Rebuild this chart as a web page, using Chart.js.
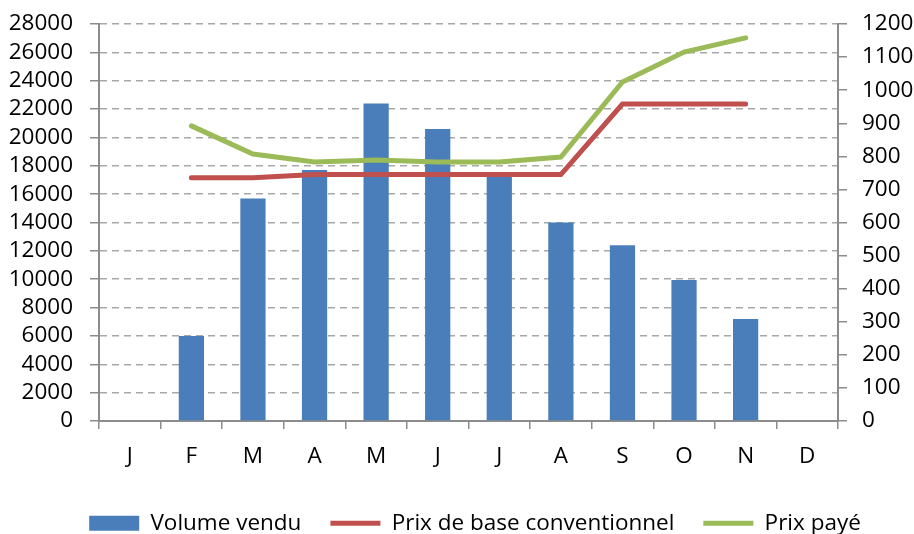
<!DOCTYPE html>
<html>
<head>
<meta charset="utf-8">
<script src="https://cdn.jsdelivr.net/npm/chart.js@4"></script>
<style>
  body { margin: 0; background: #fff; }
  #wrap { width: 914px; height: 534px; position: relative; }
</style>
</head>
<body>
<div id="wrap"><canvas id="chart"></canvas></div>
<script>
// Months (French initials)
const months = ['J', 'F', 'M', 'A', 'M', 'J', 'J', 'A', 'S', 'O', 'N', 'D'];

// Volume sold (left axis)
const volumeVendu = [null, 6000, 15700, 17700, 22400, 20600, 17500, 14000, 12400, 9950, 7200, null];

// Prices (right axis)
const prixBase = [null, 735, 735, 745, 745, 745, 745, 745, 958, 958, 958, null];
const prixPaye = [null, 892, 807, 783, 789, 783, 783, 798, 1025, 1115, 1158, null];

const leftTicks = { min: 0, max: 28000, step: 2000 };
const rightTicks = { min: 0, max: 1200, step: 100 };

const FONT = 'Open Sans';
const FONT_SIZE = 22.5;
const axisGrey = '#8c8c8c';

// keep tick-label padding from pushing the plot area down
function fitVertical(width) {
    return (scale) => {
        scale.width = width;
        scale.paddingTop = 0;
        scale.paddingBottom = 0;
    };
}

// the legend sits a little right of centre in the original
const shiftLegend = {
    id: 'shiftLegend',
    beforeDraw(chart) {
        chart.legend.left += 18;
        chart.legend.right += 18;
    }
};

const ctx = document.getElementById('chart').getContext('2d');

new Chart(ctx, {
    type: 'bar',
    data: {
        labels: months,
        datasets: [
            {
                type: 'bar',
                label: 'Volume vendu',
                data: volumeVendu,
                backgroundColor: '#4a7ebb',
                borderWidth: 0,
                yAxisID: 'y',
                order: 3,
                pointStyle: 'rect',
                categoryPercentage: 1,
                barPercentage: 0.41
            },
            {
                type: 'line',
                label: 'Prix de base conventionnel',
                data: prixBase,
                borderColor: '#c0504d',
                backgroundColor: '#c0504d',
                borderWidth: 5,
                borderCapStyle: 'round',
                pointRadius: 0,
                pointStyle: 'line',
                tension: 0,
                yAxisID: 'y1',
                order: 2
            },
            {
                type: 'line',
                label: 'Prix payé',
                data: prixPaye,
                borderColor: '#9bbb59',
                backgroundColor: '#9bbb59',
                borderWidth: 5,
                borderCapStyle: 'round',
                pointRadius: 0,
                pointStyle: 'line',
                tension: 0,
                yAxisID: 'y1',
                order: 1
            }
        ]
    },
    options: {
        responsive: true,
        maintainAspectRatio: false,
        animation: false,
        layout: {
            padding: { top: 24, left: 0, right: 0, bottom: 0 }
        },
        plugins: {
            tooltip: { enabled: false },
            legend: {
                position: 'bottom',
                maxHeight: 51,
                labels: {
                    font: { family: FONT, size: FONT_SIZE },
                    color: '#000',
                    usePointStyle: true,
                    pointStyleWidth: 50,
                    boxHeight: 15,
                    padding: 29,
                    sort: (a, b) => a.datasetIndex - b.datasetIndex
                }
            }
        },
        scales: {
            x: {
                offset: true,
                grid: {
                    offset: true,
                    drawOnChartArea: false,
                    drawTicks: true,
                    tickLength: 8,
                    color: axisGrey,
                    lineWidth: 1.5
                },
                border: { color: axisGrey, width: 2 },
                ticks: {
                    font: { family: FONT, size: FONT_SIZE },
                    color: '#000',
                    padding: 14,
                    maxRotation: 0
                },
                afterFit: (scale) => { scale.height = 62; }
            },
            y: {
                position: 'left',
                min: leftTicks.min,
                max: leftTicks.max,
                grid: {
                    color: '#a8a8a8',
                    lineWidth: 1.5,
                    tickLength: 9,
                    tickColor: axisGrey
                },
                border: { color: axisGrey, width: 2, dash: [7, 5] },
                ticks: {
                    stepSize: leftTicks.step,
                    autoSkip: false,
                    font: { family: FONT, size: FONT_SIZE },
                    color: '#000',
                    padding: 17,
                    callback: (v) => String(v)
                },
                afterFit: fitVertical(99)
            },
            y1: {
                position: 'right',
                min: rightTicks.min,
                max: rightTicks.max,
                grid: {
                    drawOnChartArea: false,
                    tickLength: 9,
                    color: axisGrey,
                    lineWidth: 1.5
                },
                border: { color: axisGrey, width: 2 },
                ticks: {
                    stepSize: rightTicks.step,
                    autoSkip: false,
                    font: { family: FONT, size: FONT_SIZE },
                    color: '#000',
                    padding: 15,
                    callback: (v) => String(v)
                },
                afterFit: fitVertical(76)
            }
        }
    },
    plugins: [shiftLegend]
});
</script>
</body>
</html>
